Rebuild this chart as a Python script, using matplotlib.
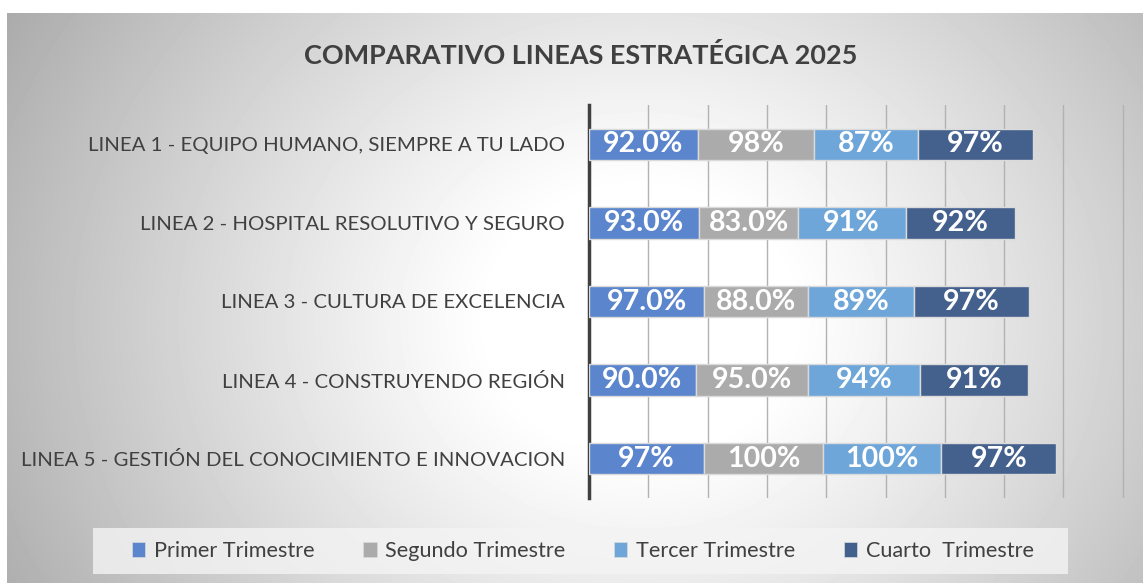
import numpy as np
import matplotlib
matplotlib.use('Agg')
import matplotlib.pyplot as plt
from matplotlib.patches import Patch, Rectangle

# ---------------- data ----------------
categories = [
    "LINEA 1 - EQUIPO HUMANO, SIEMPRE A TU LADO",
    "LINEA 2 - HOSPITAL RESOLUTIVO Y SEGURO",
    "LINEA 3 - CULTURA DE EXCELENCIA",
    "LINEA 4 - CONSTRUYENDO REGIÓN",
    "LINEA 5 - GESTIÓN DEL CONOCIMIENTO E INNOVACION",
]
series_names = ["Primer Trimestre", "Segundo Trimestre", "Tercer Trimestre", "Cuarto  Trimestre"]
primer = [92, 93, 97, 90, 97]
segundo = [98, 83, 88, 95, 100]
tercer = [87, 91, 89, 94, 100]
cuarto = [97, 92, 97, 91, 97]
primer_labels = ["92.0%", "93.0%", "97.0%", "90.0%", "97%"]
segundo_labels = ["98%", "83.0%", "88.0%", "95.0%", "100%"]
tercer_labels = ["87%", "91%", "89%", "94%", "100%"]
cuarto_labels = ["97%", "92%", "97%", "91%", "97%"]
title = "COMPARATIVO LINEAS ESTRATÉGICA 2025"

colors = ["#5B85CC", "#ABABAB", "#6FA6DA", "#44618E"]
TXT = "#404040"
FONT = ["Lato", "DejaVu Sans"]
plt.rcParams["font.family"] = FONT

W, H = 1143, 583
fig = plt.figure(figsize=(W / 100, H / 100), dpi=100)
fig.patch.set_facecolor("white")

def fitsize(s, target, weight="normal", base=12):
    t = fig.text(0, 0, s, fontsize=base, fontweight=weight)
    r = fig.canvas.get_renderer()
    w = t.get_window_extent(renderer=r).width
    t.remove()
    return base * target / w

# ---------------- background gradient ----------------
bg = fig.add_axes([7 / W, 0, (W - 7) / W, (H - 13) / H])
bg.set_zorder(-5)
bg.axis("off")
X = 7 + np.arange(W - 7)
Y = 13 + np.arange(H - 13)
XX, YY = np.meshgrid(X, Y)
d = np.sqrt(((XX - 640) / 600.0) ** 2 + ((YY - 320) / 520.0) ** 2)
g = 1 - 0.27 * np.clip((d - 0.25) / 0.8, 0, 1.3) ** 1.1
bg.imshow(g, cmap="gray", vmin=0, vmax=1, aspect="auto", interpolation="bilinear")

# legend box
fig.add_artist(Rectangle((93 / W, 1 - 574 / H), (1068 - 93) / W, 46 / H,
                         transform=fig.transFigure, facecolor="#F4F4F4",
                         edgecolor="none", alpha=0.8, zorder=1))

# ---------------- main axes ----------------
ax = fig.add_axes([589 / W, 85 / H, (W - 589) / W, 393 / H])
ax.set_facecolor("none")
y = np.arange(len(categories))
series = [primer, segundo, tercer, cuarto]
labels = [primer_labels, segundo_labels, tercer_labels, cuarto_labels]

lab_fs = fitsize("92.0%", 80, weight="bold")
left = np.zeros(len(categories))
for vals, labs, c, name in zip(series, labels, colors, series_names):
    cont = ax.barh(y, vals, left=left, height=0.4, color=c, edgecolor="#DADADA",
                   linewidth=1, label=name, zorder=3)
    ax.bar_label(cont, labels=labs, label_type="center", color="white",
                 fontweight="bold", fontsize=lab_fs, zorder=4)
    left += np.array(vals)

ax.set_xlim(0, (W - 589) / 1.186)
ax.set_ylim(len(categories) - 0.5, -0.5)
ax.set_xticks(np.arange(50, 451, 50))
ax.xaxis.grid(True, color="#B2B2B2", linewidth=1)
ax.set_axisbelow(True)
ax.tick_params(axis="x", length=0, labelbottom=False)
ax.set_yticks(y)
cat_fs = fitsize(categories[4], 540)
ax.set_yticklabels(categories, fontsize=cat_fs, color=TXT)
ax.tick_params(axis="y", length=0, pad=24 * 0.72)
for s in ["top", "right", "bottom"]:
    ax.spines[s].set_visible(False)
ax.spines["left"].set_color(TXT)
ax.spines["left"].set_linewidth(2.5)

# title
t_fs = fitsize(title, 554, weight="bold")
fig.text(581 / W, 1 - 55 / H, title, ha="center", va="center",
         fontsize=t_fs, fontweight="bold", color=TXT)

# legend
leg_fs = fitsize("Segundo Trimestre", 180)
handles = [Patch(facecolor=c, edgecolor="#DADADA", linewidth=0.5) for c in colors]
leg = fig.legend(handles, series_names, loc="center", bbox_to_anchor=(583 / W, 1 - 551 / H),
                 ncol=4, frameon=False, fontsize=leg_fs, handlelength=0.6,
                 handleheight=0.7, handletextpad=0.4, columnspacing=2.25, labelcolor=TXT)
leg.set_zorder(5)

fig.savefig("out.png", dpi=100)
